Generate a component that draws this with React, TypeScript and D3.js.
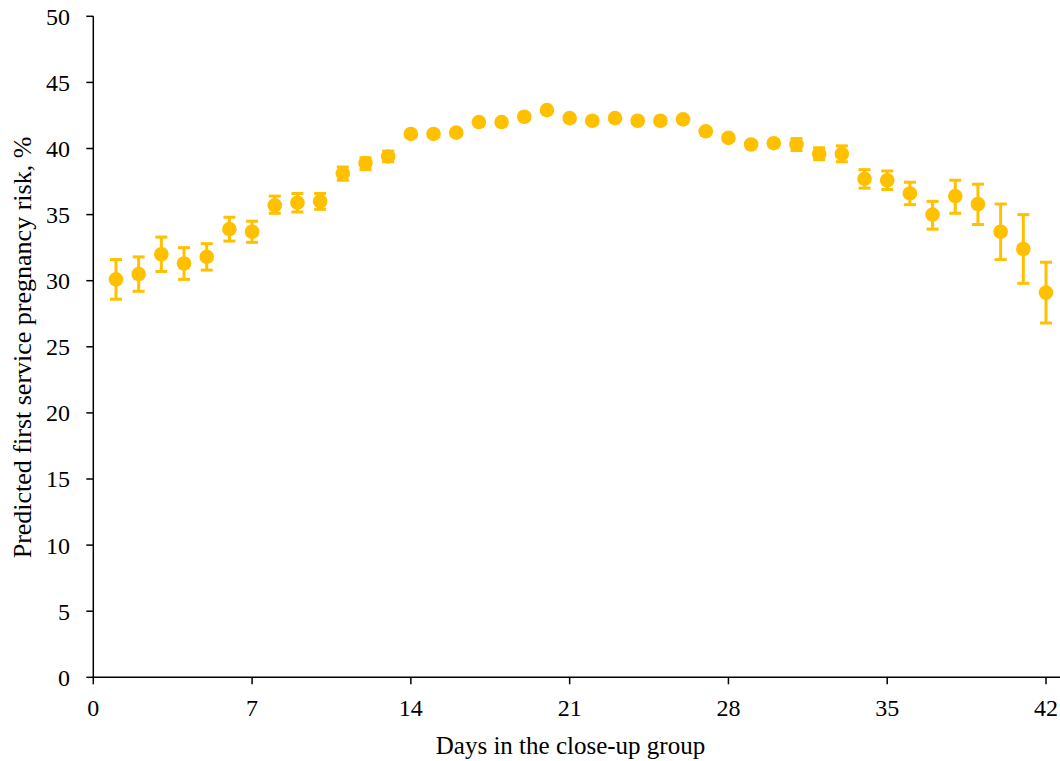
import React from "react";
import * as d3 from "d3";

const days = [1,2,3,4,5,6,7,8,9,10,11,12,13,14,15,16,17,18,19,20,21,22,23,24,25,26,27,28,29,30,31,32,33,34,35,36,37,38,39,40,41,42];
const risk = [30.1,30.5,32.0,31.3,31.8,33.9,33.7,35.7,35.9,36.0,38.1,38.9,39.4,41.1,41.1,41.2,42.0,42.0,42.4,42.9,42.3,42.1,42.3,42.1,42.1,42.2,41.3,40.8,40.3,40.4,40.3,39.6,39.6,37.7,37.6,36.6,35.0,36.4,35.8,33.7,32.4,29.1];
const lower = [28.6,29.2,30.7,30.1,30.8,33.0,32.9,35.1,35.2,35.4,37.6,38.4,39.0,40.9,40.9,41.0,41.8,41.8,42.2,42.7,42.1,41.9,42.1,41.9,41.9,42.0,41.1,40.6,40.1,40.2,39.85,39.15,39.0,37.0,36.9,35.75,33.9,35.1,34.25,31.6,29.8,26.8];
const upper = [31.6,31.8,33.3,32.5,32.8,34.8,34.5,36.4,36.6,36.6,38.6,39.3,39.8,41.3,41.3,41.4,42.2,42.2,42.6,43.1,42.5,42.3,42.5,42.3,42.3,42.4,41.5,41.0,40.5,40.6,40.75,40.05,40.2,38.4,38.3,37.45,36.0,37.6,37.3,35.8,35.0,31.4];
const xTicks = [0,7,14,21,28,35,42];
const yTicks = [0,5,10,15,20,25,30,35,40,45,50];

const W = 1060, H = 761;
const left = 93.3, right = 1046, top = 16.3, bottom = 677.3;
const gold = "#FFC000";
const font = "'Liberation Serif', 'Times New Roman', serif";

export default function App() {
  const x = d3.scaleLinear().domain([0, 42]).range([left, right]);
  const y = d3.scaleLinear().domain([0, 50]).range([bottom, top]);
  const capHalf = 6;
  return (
    <svg width={W} height={H} style={{ position: "absolute", left: 0, top: 0, background: "#fff" }}>
      <rect width={W} height={H} fill="#fff" />
      <line x1={left} x2={left} y1={top} y2={bottom} stroke="#000" strokeWidth={1.5} />
      <line x1={left} x2={1060} y1={bottom} y2={bottom} stroke="#000" strokeWidth={1.5} />
      {yTicks.map((t) => (
        <g key={"y" + t}>
          <line x1={left - 7} x2={left} y1={y(t)} y2={y(t)} stroke="#000" strokeWidth={1.5} />
          <text x={70} y={y(t)} dy="0.35em" textAnchor="end" fontFamily={font} fontSize={24} fill="#000">{t}</text>
        </g>
      ))}
      {xTicks.map((t) => (
        <g key={"x" + t}>
          <line x1={x(t)} x2={x(t)} y1={bottom} y2={bottom + 7} stroke="#000" strokeWidth={1.5} />
          <text x={x(t)} y={708} dy="0.35em" textAnchor="middle" fontFamily={font} fontSize={24} fill="#000">{t}</text>
        </g>
      ))}
      <text x={570.5} y={745} dy="0.35em" textAnchor="middle" fontFamily={font} fontSize={25} fill="#000">Days in the close-up group</text>
      <text transform={`translate(22,347.5) rotate(-90)`} dy="0.35em" textAnchor="middle" fontFamily={font} fontSize={26} fill="#000">Predicted first service pregnancy risk, %</text>
      {days.map((d, i) => (
        <g key={"e" + d} stroke={gold} strokeWidth={3}>
          <line x1={x(d)} x2={x(d)} y1={y(lower[i])} y2={y(upper[i])} />
          <line x1={x(d) - capHalf} x2={x(d) + capHalf} y1={y(lower[i])} y2={y(lower[i])} />
          <line x1={x(d) - capHalf} x2={x(d) + capHalf} y1={y(upper[i])} y2={y(upper[i])} />
        </g>
      ))}
      {days.map((d, i) => (
        <circle key={"c" + d} cx={x(d)} cy={y(risk[i])} r={7.3} fill={gold} />
      ))}
    </svg>
  );
}
